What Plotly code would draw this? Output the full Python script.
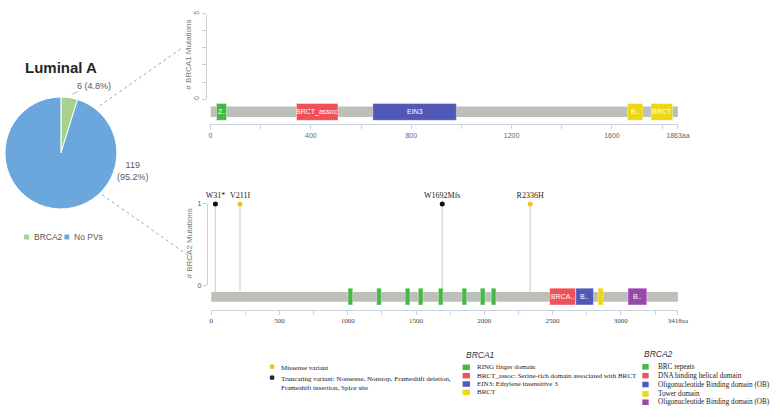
import plotly.graph_objects as go

W, H = 780, 418
def X(px): return px / W
def Y(py): return 1 - py / H

# ---------------- data ----------------
pie_title = "Luminal A"
pie_labels = ["BRCA2", "No PVs"]
pie_values = [6, 119]
pie_text = ["6 (4.8%)", "119<br>(95.2%)"]

brca1_len = 1863
brca1_ymax = 5
brca1_dom_label = ["Z..", "BRCT_assoc", "EIN3", "B..", "BRCT"]
brca1_dom_start = [24, 343, 647, 1662, 1756]
brca1_dom_end = [64, 508, 980, 1723, 1842]
brca1_dom_type = ["RING", "BRCT_assoc", "EIN3", "BRCT", "BRCT"]
brca1_ticks = [0, 200, 400, 600, 800, 1000, 1200, 1400, 1600, 1800, 1863]
brca1_ticktext = ["0", "", "400", "", "800", "", "1200", "", "1600", "", "1863aa"]

brca2_len = 3418
brca2_ymax = 1
brca2_dom_label = ["", "", "", "", "", "", "", "", "BRCA..", "B..", "", "B.."]
brca2_dom_start = [1002, 1212, 1421, 1517, 1664, 1837, 1971, 2051, 2479, 2670, 2833, 3052]
brca2_dom_end = [1036, 1246, 1455, 1551, 1698, 1871, 2005, 2085, 2667, 2799, 2871, 3190]
brca2_dom_type = ["BRC", "BRC", "BRC", "BRC", "BRC", "BRC", "BRC", "BRC",
                  "Helical", "OB", "Tower", "OB3"]
brca2_ticks = [0, 250, 500, 750, 1000, 1250, 1500, 1750, 2000, 2250, 2500, 2750, 3000, 3250, 3418]
brca2_ticktext = ["0", "", "500", "", "1000", "", "1500", "", "2000", "", "2500", "", "3000", "", "3418aa"]

mut_pos = [31, 211, 1692, 2336]
mut_count = [1, 1, 1, 1]
mut_label = ["W31*", "V211I", "W1692Mfs", "R2336H"]
mut_class = ["Truncating", "Missense", "Truncating", "Missense"]

legend_var = ["Missense variant",
              "Truncating variant: Nonsense, Nonstop, Frameshift deletion,<br>Frameshift insertion, Spice site"]
legend_brca1 = ["RING finger domain", "BRCT_assoc: Serine-rich domain associated with BRCT",
                "EIN3: Ethylene insensitive 3", "BRCT"]
legend_brca2 = ["BRC repeats", "DNA binding helical domain", "Oligonucleotide Binding domain (OB)",
                "Tower domain", "Oligonucleotide Binding domain (OB)"]

# ---------------- styles ----------------
pie_colors = ["#a7d28c", "#6ba6dc"]
dom_color = {"RING": "#45b845", "BRCT_assoc": "#f0505a", "EIN3": "#5258b8", "BRCT": "#ecd716",
             "BRC": "#45b845", "Helical": "#f0505a", "OB": "#5258b8", "Tower": "#ecd716", "OB3": "#9a46ad"}
mut_color = {"Missense": "#f6c21a", "Truncating": "#111111"}
legend_dot_color = ["#f6c21a", "#1c2640"]
legend_brca1_col = ["#45b845", "#f0505a", "#5258b8", "#ecd716"]
legend_brca2_col = ["#45b845", "#f0505a", "#5258b8", "#ecd716", "#9a46ad"]
BAR_GREY = "#bdbfb9"
AX_LINE = "#c9d3e0"
TXT = "#555555"
SERIF = "Liberation Serif"
SANS = "Liberation Sans"

# panel geometry in pixels
P1 = dict(x0=212.3, x1=688.3, y0=96.7, ytop=10.0, xline=122.5, bar=(104.3, 115.0), dom=(101.2, 118.3), yax=208.0)
P2 = dict(x0=213.0, x1=688.3, y0=286.0, ytop=203.3, xline=311.0, bar=(293.0, 302.7), dom=(289.0, 306.0), yax=208.5)

def scale(P, ymax):
    return (P["y0"] - P["ytop"]) / ymax

def val(P, ymax, py):
    return (P["y0"] - py) / scale(P, ymax)

fig = go.Figure()
shapes = []
annotations = []

def ann(px, py, text, size=8, color=TXT, family=SANS, xanchor="center", yanchor="middle", angle=0, **kw):
    annotations.append(dict(x=X(px), y=Y(py), xref="paper", yref="paper", text=text, showarrow=False,
                            font=dict(size=size, color=color, family=family), xanchor=xanchor,
                            yanchor=yanchor, textangle=angle, **kw))

# ---------------- pie ----------------
fig.add_trace(go.Pie(labels=pie_labels, values=pie_values, sort=False, direction="clockwise", rotation=0,
                     marker=dict(colors=pie_colors, line=dict(color="white", width=1)),
                     textinfo="none", hoverinfo="skip", showlegend=False,
                     domain=dict(x=[X(3), X(117)], y=[Y(208.5), Y(94.5)])))
ann(60, 65, "<b>" + pie_title + "</b>", size=15, color="#262626", family="Liberation Sans")
ann(94, 83, pie_text[0], size=9, color="#595959")
ann(133, 170, pie_text[1], size=9, color="#595959")
shapes.append(dict(type="line", xref="paper", yref="paper", x0=X(71), y0=Y(92), x1=X(77), y1=Y(89),
                   line=dict(color="#a6a6a6", width=0.8)))
# pie legend
for i, (lab, col, sx) in enumerate(zip(pie_labels, pie_colors, [22.5, 63.5])):
    shapes.append(dict(type="rect", xref="paper", yref="paper", x0=X(sx), x1=X(sx + 5), y0=Y(239.5), y1=Y(234.5),
                       fillcolor=col, line=dict(width=0)))
    ann(sx + 8, 237, lab, size=8.5, color="#595959", xanchor="left")

# connector lines
shapes.append(dict(type="line", xref="paper", yref="paper", x0=X(99.5), y0=Y(103.5), x1=X(183), y1=Y(45),
                   line=dict(color="#8ea9d8", width=1, dash="dot")))
shapes.append(dict(type="line", xref="paper", yref="paper", x0=X(102), y0=Y(194), x1=X(193), y1=Y(258),
                   line=dict(color="#8ea9d8", width=1, dash="dot")))

# ---------------- protein panels ----------------
def panel(P, ymax, length, dstart, dend, dtype, dlabel, xa, ya_hidden):
    lo = val(P, ymax, P["xline"])
    shapes.append(dict(type="rect", xref=xa, yref=ya_hidden, x0=0, x1=length,
                       y0=val(P, ymax, P["bar"][1]), y1=val(P, ymax, P["bar"][0]),
                       fillcolor=BAR_GREY, line=dict(width=0), layer="above"))
    for s, e, t, l in zip(dstart, dend, dtype, dlabel):
        shapes.append(dict(type="rect", xref=xa, yref=ya_hidden, x0=s, x1=e,
                           y0=val(P, ymax, P["dom"][1]), y1=val(P, ymax, P["dom"][0]),
                           fillcolor=dom_color[t], line=dict(width=0.6, color="rgba(255,255,255,0.6)"),
                           layer="above"))
        if l:
            annotations.append(dict(x=(s + e) / 2, y=val(P, ymax, (P["dom"][0] + P["dom"][1]) / 2),
                                    xref=xa, yref=ya_hidden, text=l, showarrow=False,
                                    font=dict(size=7, color="white", family=SANS)))
    return lo

lo1 = panel(P1, brca1_ymax, brca1_len, brca1_dom_start, brca1_dom_end, brca1_dom_type, brca1_dom_label, "x", "y")
lo2 = panel(P2, brca2_ymax, brca2_len, brca2_dom_start, brca2_dom_end, brca2_dom_type, brca2_dom_label, "x2", "y3")

# dummy traces to realise the display y axes
fig.add_trace(go.Scatter(x=[0], y=[0], xaxis="x", yaxis="y2", mode="markers", marker=dict(opacity=0),
                         hoverinfo="skip", showlegend=False))
fig.add_trace(go.Scatter(x=[0], y=[0], xaxis="x2", yaxis="y4", mode="markers", marker=dict(opacity=0),
                         hoverinfo="skip", showlegend=False))

# lollipops
bar_top2 = val(P2, brca2_ymax, P2["bar"][0])
sx, sy = [], []
for p, c in zip(mut_pos, mut_count):
    sx += [p, p, None]
    sy += [bar_top2, c, None]
fig.add_trace(go.Scatter(x=sx, y=sy, xaxis="x2", yaxis="y3", mode="lines",
                         line=dict(color="#d4d4d4", width=1.2), hoverinfo="skip", showlegend=False))
fig.add_trace(go.Scatter(x=mut_pos, y=mut_count, xaxis="x2", yaxis="y3", mode="markers+text",
                         text=mut_label, textposition="top center",
                         textfont=dict(size=8, color="#222222", family=SERIF),
                         marker=dict(size=5, color=[mut_color[c] for c in mut_class]),
                         cliponaxis=False, hoverinfo="skip", showlegend=False))

# y axis titles
ann(190, 52, "# BRCA1 Mutations", size=8, color="#777777", angle=-90)
ann(191, 244, "# BRCA2 Mutations", size=8, color="#777777", angle=-90)

# ---------------- bottom legend ----------------
for i, (t, col, py) in enumerate(zip(legend_var, legend_dot_color, [369, 380])):
    shapes.append(dict(type="circle", xref="paper", yref="paper", x0=X(272.5), x1=X(277.5),
                       y0=Y(py + 2.5), y1=Y(py - 2.5), fillcolor=col, line=dict(width=0)))
    ann(282, py - 4.5, t, size=7, color="#222222", family=SERIF, xanchor="left", yanchor="top", align="left")

ann(470, 357, "<i>BRCA1</i>", size=8.5, color="#333333", xanchor="left")
for t, col, py in zip(legend_brca1, legend_brca1_col, [369.5, 378, 386.5, 395]):
    shapes.append(dict(type="rect", xref="paper", yref="paper", x0=X(469), x1=X(476.5),
                       y0=Y(py + 2.8), y1=Y(py - 2.8), fillcolor=col, line=dict(width=0)))
    ann(482, py, t, size=7, color="#222222", family=SERIF, xanchor="left")

ann(652, 356, "<i>BRCA2</i>", size=8.5, color="#333333", xanchor="left")
for t, col, py in zip(legend_brca2, legend_brca2_col, [369, 378, 387, 396.5, 405]):
    shapes.append(dict(type="rect", xref="paper", yref="paper", x0=X(652), x1=X(658.5),
                       y0=Y(py + 2.8), y1=Y(py - 2.8), fillcolor=col, line=dict(width=0)))
    ann(666, py, t, size=7.2, color="#222222", family=SERIF, xanchor="left")

# ---------------- layout ----------------
hidden = dict(visible=False, showgrid=False, zeroline=False, fixedrange=True)
fig.update_layout(
    width=W, height=H, autosize=False,
    margin=dict(l=0, r=0, t=0, b=0),
    paper_bgcolor="white", plot_bgcolor="rgba(0,0,0,0)",
    showlegend=False,
    xaxis=dict(domain=[X(P1["x0"]), X(P1["x1"])], range=[0, brca1_len], anchor="y",
               tickmode="array", tickvals=brca1_ticks, ticktext=brca1_ticktext,
               showline=True, linecolor=AX_LINE, linewidth=1, ticks="outside", ticklen=4, tickcolor=AX_LINE,
               tickfont=dict(size=7, color="#666666", family=SANS), showgrid=False, zeroline=False),
    yaxis=dict(domain=[Y(P1["xline"]), Y(P1["ytop"])], range=[lo1, brca1_ymax], **hidden),
    yaxis2=dict(domain=[Y(P1["y0"]), Y(P1["ytop"])], range=[0, brca1_ymax], anchor="free",
                position=X(P1["yax"]), tickmode="array", tickvals=[0, 1, 2, 3, 4, 5],
                ticktext=["0", "", "", "", "", "5"], tickangle=-90,
                showline=True, linecolor="#cfcfcf", ticks="outside", ticklen=4, tickcolor="#cfcfcf",
                tickfont=dict(size=7, color="#777777", family=SANS), showgrid=False, zeroline=False),
    xaxis2=dict(domain=[X(P2["x0"]), X(P2["x1"])], range=[0, brca2_len], anchor="y3",
                tickmode="array", tickvals=brca2_ticks, ticktext=brca2_ticktext,
                showline=True, linecolor=AX_LINE, linewidth=1, ticks="outside", ticklen=4, tickcolor=AX_LINE,
                tickfont=dict(size=7, color="#444444", family=SERIF), showgrid=False, zeroline=False),
    yaxis3=dict(domain=[Y(P2["xline"]), Y(P2["ytop"])], range=[lo2, brca2_ymax], **hidden),
    yaxis4=dict(domain=[Y(P2["y0"]), Y(P2["ytop"])], range=[0, brca2_ymax], anchor="free",
                position=X(P2["yax"]), tickmode="array", tickvals=[0, 1], ticktext=["0", "1"],
                showline=True, linecolor="#cfcfcf", ticks="outside", ticklen=4, tickcolor="#cfcfcf",
                tickfont=dict(size=7, color="#555555", family=SANS), showgrid=False, zeroline=False),
    shapes=shapes,
    annotations=annotations,
)

fig.write_html("out.html", config={"displayModeBar": False},
               post_script="document.body.style.margin='0';document.body.style.padding='0';"
                           "document.documentElement.style.overflow='hidden';")
